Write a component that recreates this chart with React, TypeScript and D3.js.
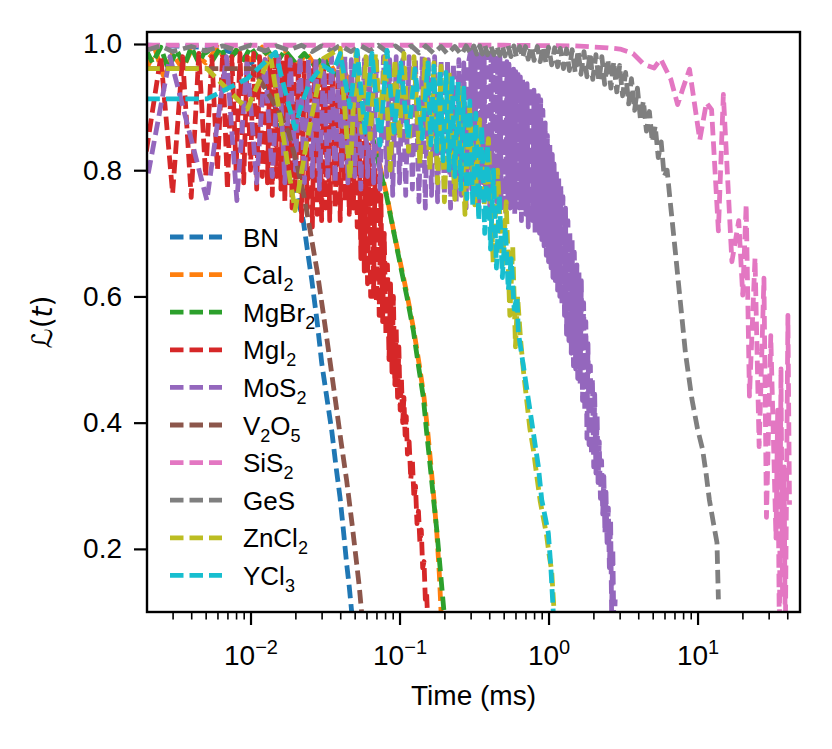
import React, { useRef, useEffect } from 'react';
import * as d3 from 'd3';

type Pt = [number, number];

// series labels, in plotting order (digits are rendered as subscripts)
const labels = ['BN', 'CaI2', 'MgBr2', 'MgI2', 'MoS2', 'V2O5', 'SiS2', 'GeS', 'ZnCl2', 'YCl3'];
const lineColors = ['#1f77b4', '#ff7f0e', '#2ca02c', '#d62728', '#9467bd', '#8c564b', '#e377c2', '#7f7f7f', '#bcbd22', '#17becf'];

// [time (ms), L(t)]
const bn: Pt[] = [
    [0.002, 0.998], [0.004, 0.996], [0.006, 0.993], [0.008, 0.985], [0.01, 0.972], [0.012, 0.95],
    [0.014, 0.915], [0.0155, 0.88], [0.0168, 0.85], [0.0184, 0.8], [0.0205, 0.76], [0.0226, 0.72],
    [0.0242, 0.67], [0.0258, 0.625], [0.028, 0.56], [0.0301, 0.493], [0.0325, 0.44], [0.0351, 0.387],
    [0.0375, 0.33], [0.0399, 0.281], [0.042, 0.23], [0.0442, 0.176], [0.046, 0.14], [0.0478, 0.099], [0.05, 0.06],
];

const cai2: Pt[] = [
    [0.002, 0.96], [0.0023, 0.99], [0.0026, 0.95], [0.003, 0.985], [0.0035, 0.96], [0.004, 0.99],
    [0.005, 0.97], [0.006, 0.995], [0.007, 0.97], [0.008, 0.99], [0.01, 0.975], [0.012, 0.995],
    [0.014, 0.97], [0.017, 0.99], [0.02, 0.965], [0.024, 0.985], [0.028, 0.96], [0.033, 0.975],
    [0.038, 0.95], [0.043, 0.955], [0.048, 0.93], [0.053, 0.91], [0.058, 0.89], [0.063, 0.87],
    [0.068, 0.848], [0.075, 0.8], [0.083, 0.755], [0.092, 0.7], [0.102, 0.65], [0.113, 0.6],
    [0.125, 0.545], [0.136, 0.49], [0.146, 0.44], [0.154, 0.39], [0.162, 0.335], [0.17, 0.28],
    [0.178, 0.225], [0.185, 0.16], [0.19, 0.1], [0.195, 0.05],
];

const mgbr2: Pt[] = [
    [0.002, 0.99], [0.0022, 0.97], [0.0025, 0.995], [0.0028, 0.96], [0.0032, 0.99], [0.0036, 0.965],
    [0.004, 0.995], [0.0045, 0.97], [0.005, 0.99], [0.0056, 0.975], [0.0063, 0.995], [0.007, 0.97],
    [0.008, 0.99], [0.009, 0.975], [0.01, 0.995], [0.0115, 0.975], [0.013, 0.99], [0.015, 0.97],
    [0.017, 0.99], [0.02, 0.97], [0.023, 0.985], [0.027, 0.965], [0.031, 0.98], [0.035, 0.95],
    [0.04, 0.955], [0.045, 0.93], [0.05, 0.915], [0.055, 0.9], [0.06, 0.88], [0.0667, 0.848],
    [0.074, 0.8], [0.082, 0.758], [0.091, 0.705], [0.1008, 0.652], [0.112, 0.6], [0.1238, 0.546],
    [0.134, 0.49], [0.1445, 0.44], [0.152, 0.385], [0.16, 0.335], [0.169, 0.28], [0.178, 0.229],
    [0.188, 0.165], [0.199, 0.099], [0.205, 0.06],
];

const mgi2: Pt[] = [
    [0.002, 0.83], [0.0025, 0.98], [0.003, 0.763], [0.0035, 0.98], [0.004, 0.757], [0.0045, 0.985],
    [0.005, 0.79], [0.0055, 0.98], [0.006, 0.8], [0.0065, 0.985], [0.007, 0.77], [0.0075, 0.98],
    [0.008, 0.8], [0.0085, 0.985], [0.009, 0.78], [0.0095, 0.98], [0.01, 0.8], [0.0105, 0.985],
    [0.011, 0.77], [0.0115, 0.98], [0.012, 0.79], [0.0125, 0.975], [0.013, 0.78], [0.0135, 0.98],
    [0.014, 0.76], [0.0145, 0.975], [0.015, 0.79], [0.0155, 0.98], [0.016, 0.77], [0.0165, 0.97],
    [0.017, 0.75], [0.0175, 0.98], [0.018, 0.78], [0.0185, 0.97], [0.019, 0.74], [0.0195, 0.975],
    [0.02, 0.77], [0.021, 0.97], [0.022, 0.72], [0.023, 0.97], [0.024, 0.74], [0.025, 0.965],
    [0.026, 0.71], [0.027, 0.97], [0.028, 0.73], [0.029, 0.96], [0.03, 0.72], [0.031, 0.96],
    [0.032, 0.74], [0.033, 0.95], [0.034, 0.72], [0.0355, 0.95], [0.037, 0.74], [0.0385, 0.94],
    [0.04, 0.72], [0.0415, 0.94], [0.043, 0.75], [0.0445, 0.93], [0.046, 0.73], [0.0475, 0.92],
    [0.049, 0.74], [0.0505, 0.9], [0.052, 0.71], [0.0535, 0.89], [0.055, 0.66], [0.0565, 0.88],
    [0.058, 0.64], [0.0595, 0.86], [0.061, 0.62], [0.0625, 0.84], [0.064, 0.6], [0.0655, 0.82],
    [0.067, 0.6], [0.0685, 0.8], [0.07, 0.59], [0.0715, 0.79], [0.073, 0.57], [0.075, 0.76],
    [0.077, 0.56], [0.079, 0.7], [0.081, 0.54], [0.083, 0.65], [0.085, 0.5], [0.087, 0.62],
    [0.089, 0.48], [0.091, 0.6], [0.093, 0.46], [0.095, 0.55], [0.097, 0.44], [0.099, 0.52],
    [0.101, 0.42], [0.103, 0.47], [0.105, 0.4], [0.107, 0.44], [0.109, 0.38], [0.111, 0.41],
    [0.113, 0.35], [0.116, 0.37], [0.119, 0.31], [0.122, 0.34], [0.125, 0.28], [0.128, 0.3],
    [0.131, 0.24], [0.134, 0.26], [0.137, 0.21], [0.14, 0.23], [0.143, 0.17], [0.146, 0.18],
    [0.149, 0.12], [0.152, 0.13], [0.155, 0.08], [0.158, 0.09], [0.16, 0.05],
];

const mos2: Pt[] = [
    [0.00206, 0.795], [0.00288, 0.98], [0.0051, 0.752], [0.0069, 0.98], [0.0081, 0.752], [0.0095, 0.975],
    [0.011, 0.78], [0.0125, 0.975], [0.014, 0.79], [0.0155, 0.98], [0.017, 0.78], [0.0185, 0.975],
    [0.02, 0.8], [0.0215, 0.98], [0.023, 0.78], [0.0245, 0.975], [0.026, 0.79], [0.0275, 0.98],
    [0.029, 0.77], [0.031, 0.975], [0.033, 0.79], [0.035, 0.98], [0.037, 0.78], [0.039, 0.975],
    [0.041, 0.8], [0.043, 0.98], [0.045, 0.78], [0.0475, 0.975], [0.05, 0.79], [0.0525, 0.98],
    [0.055, 0.77], [0.058, 0.975], [0.061, 0.79], [0.064, 0.98], [0.067, 0.78], [0.07, 0.975],
    [0.074, 0.77], [0.078, 0.98], [0.082, 0.79], [0.086, 0.975], [0.09, 0.76], [0.095, 0.98],
    [0.1, 0.78], [0.105, 0.975], [0.11, 0.76], [0.116, 0.98], [0.122, 0.77], [0.128, 0.975],
    [0.135, 0.75], [0.142, 0.98], [0.149, 0.74], [0.156, 0.975], [0.164, 0.76], [0.172, 0.98],
    [0.18, 0.75], [0.19, 0.975], [0.2, 0.76], [0.21, 0.975], [0.22, 0.74], [0.23, 0.97],
    [0.24, 0.75], [0.25, 0.975], [0.26, 0.76], [0.27, 0.97], [0.28, 0.74], [0.29, 0.97],
    // dense band from 0.3 ms on
    [0.3, 0.99], [0.305, 0.77], [0.31, 0.99], [0.316, 0.75], [0.321, 0.988], [0.327, 0.78],
    [0.333, 0.99], [0.339, 0.74], [0.345, 0.988], [0.351, 0.76], [0.357, 0.987], [0.363, 0.78],
    [0.37, 0.987], [0.376, 0.75], [0.383, 0.986], [0.39, 0.77], [0.396, 0.986], [0.403, 0.74],
    [0.411, 0.985], [0.418, 0.76], [0.425, 0.984], [0.433, 0.78], [0.44, 0.983], [0.448, 0.75],
    [0.456, 0.98], [0.464, 0.77], [0.472, 0.978], [0.481, 0.74], [0.489, 0.977], [0.498, 0.76],
    [0.507, 0.975], [0.516, 0.73], [0.525, 0.972], [0.534, 0.76], [0.543, 0.968], [0.553, 0.74],
    [0.563, 0.964], [0.573, 0.75], [0.583, 0.96], [0.593, 0.73], [0.603, 0.956], [0.614, 0.75],
    [0.625, 0.952], [0.636, 0.74], [0.647, 0.948], [0.658, 0.72], [0.67, 0.944], [0.682, 0.74],
    [0.694, 0.94], [0.706, 0.73], [0.718, 0.937], [0.731, 0.71], [0.744, 0.933], [0.757, 0.73],
    [0.77, 0.93], [0.784, 0.72], [0.798, 0.927], [0.812, 0.7], [0.826, 0.923], [0.841, 0.71],
    [0.855, 0.918], [0.87, 0.7], [0.886, 0.912], [0.901, 0.69], [0.917, 0.895], [0.933, 0.68],
    [0.95, 0.875], [0.966, 0.665], [0.983, 0.855], [1.0, 0.655], [1.02, 0.84], [1.04, 0.645],
    [1.06, 0.825], [1.07, 0.63], [1.09, 0.81], [1.11, 0.625], [1.13, 0.8], [1.15, 0.61],
    [1.17, 0.79], [1.19, 0.6], [1.21, 0.775], [1.23, 0.585], [1.25, 0.758], [1.28, 0.57],
    [1.3, 0.74], [1.32, 0.54], [1.35, 0.72], [1.37, 0.53], [1.39, 0.7], [1.42, 0.51],
    [1.44, 0.69], [1.47, 0.49], [1.49, 0.67], [1.52, 0.485], [1.55, 0.65], [1.57, 0.47],
    [1.6, 0.64], [1.63, 0.46], [1.66, 0.625], [1.69, 0.435], [1.72, 0.59], [1.75, 0.42],
    [1.78, 0.56], [1.81, 0.375], [1.84, 0.525], [1.87, 0.365], [1.91, 0.49], [1.94, 0.35],
    [1.97, 0.47], [2.01, 0.33], [2.04, 0.445], [2.08, 0.32], [2.12, 0.41], [2.15, 0.305],
    [2.19, 0.37], [2.23, 0.28], [2.27, 0.34], [2.31, 0.255], [2.35, 0.315], [2.39, 0.225],
    [2.43, 0.29], [2.47, 0.21], [2.52, 0.265], [2.56, 0.17], [2.61, 0.245], [2.65, 0.1],
    [2.7, 0.2], [2.75, 0.06], [2.8, 0.12],
];

const v2o5: Pt[] = [
    [0.002, 0.961], [0.0105, 0.961], [0.0122, 0.934], [0.0141, 0.91], [0.0159, 0.887], [0.018, 0.86],
    [0.0204, 0.811], [0.0228, 0.76], [0.0251, 0.705], [0.028, 0.64], [0.0308, 0.573], [0.0338, 0.505],
    [0.0369, 0.44], [0.0405, 0.37], [0.0442, 0.308], [0.048, 0.24], [0.0516, 0.176], [0.0537, 0.14],
    [0.0557, 0.099], [0.058, 0.06],
];

const sis2: Pt[] = [
    [0.002, 0.998], [0.5, 0.998], [1.5, 0.997], [2.5, 0.994], [3.02, 0.992], [3.69, 0.985],
    [4.35, 0.968], [5.11, 0.962], [5.66, 0.976], [6.62, 0.944], [7.35, 0.904], [7.96, 0.929],
    [8.83, 0.96], [10.35, 0.848], [11.47, 0.907], [12.42, 0.896], [13.8, 0.704], [14.9, 0.92],
    [17.0, 0.655], [18.9, 0.72], [20.1, 0.602], [21.2, 0.746], [22.3, 0.442], [24.3, 0.661],
    [25.9, 0.362], [27.9, 0.629], [29.0, 0.25], [31.0, 0.538], [33.6, 0.217], [34.5, 0.42],
    [35.4, 0.06], [36.3, 0.485], [37.2, 0.12], [38.1, 0.33], [38.8, 0.05], [40.4, 0.57], [41.4, 0.27],
];

const ges: Pt[] = [
    [0.002, 0.99], [0.0025, 0.997], [0.003, 0.988], [0.004, 0.996], [0.005, 0.989], [0.0065, 0.997],
    [0.008, 0.99], [0.01, 0.998], [0.0125, 0.989], [0.015, 0.997], [0.018, 0.99], [0.022, 0.998],
    [0.026, 0.988], [0.03, 0.997], [0.035, 0.989], [0.04, 0.998], [0.047, 0.988], [0.055, 0.997],
    [0.063, 0.989], [0.072, 0.998], [0.082, 0.988], [0.094, 0.997], [0.107, 0.987], [0.12, 0.997],
    [0.135, 0.986], [0.15, 0.997], [0.17, 0.985], [0.19, 0.996], [0.21, 0.984], [0.235, 0.996],
    [0.26, 0.983], [0.28, 0.997],
    [0.3, 0.985], [0.315, 0.997], [0.33, 0.984], [0.345, 0.997], [0.36, 0.984], [0.375, 0.997],
    [0.39, 0.983], [0.41, 0.997], [0.43, 0.983], [0.45, 0.997], [0.47, 0.982], [0.49, 0.997],
    [0.51, 0.981], [0.535, 0.997], [0.56, 0.98], [0.585, 0.997], [0.61, 0.979], [0.64, 0.996],
    [0.67, 0.978], [0.7, 0.996], [0.73, 0.976], [0.765, 0.996], [0.8, 0.974], [0.84, 0.996],
    [0.88, 0.972], [0.92, 0.996], [0.96, 0.97], [1.0, 0.995], [1.05, 0.967], [1.1, 0.994],
    [1.15, 0.964], [1.2, 0.993], [1.26, 0.961], [1.32, 0.992], [1.38, 0.958], [1.44, 0.991],
    [1.51, 0.955], [1.58, 0.99], [1.65, 0.952], [1.73, 0.988], [1.81, 0.948], [1.9, 0.986],
    [1.98, 0.944], [2.08, 0.983], [2.18, 0.94], [2.28, 0.98], [2.38, 0.936], [2.5, 0.976],
    [2.62, 0.93], [2.74, 0.972], [2.87, 0.924], [3.0, 0.966], [3.14, 0.918], [3.29, 0.955],
    [3.45, 0.905], [3.6, 0.945], [3.78, 0.895], [3.95, 0.93], [4.14, 0.88], [4.33, 0.91],
    [4.54, 0.862], [4.75, 0.893], [4.97, 0.845], [5.2, 0.87], [5.45, 0.82], [5.7, 0.845],
    [5.97, 0.79], [6.25, 0.8], [6.53, 0.754], [7.1, 0.67], [7.63, 0.596], [8.3, 0.51],
    [9.17, 0.437], [10.0, 0.39], [10.8, 0.358], [11.4, 0.32], [12.0, 0.278], [12.8, 0.24],
    [13.5, 0.21], [13.8, 0.12],
];

const zncl2: Pt[] = [
    [0.002, 0.961], [0.0051, 0.961], [0.0095, 0.897], [0.0136, 0.982], [0.0199, 0.736], [0.0238, 0.844],
    [0.0308, 0.977], [0.04, 0.993], [0.0465, 0.786], [0.051, 0.985], [0.0557, 0.86], [0.0595, 0.98],
    [0.0635, 0.85], [0.069, 0.985], [0.074, 0.88], [0.08, 0.98], [0.0865, 0.8], [0.093, 0.975],
    [0.1, 0.85], [0.107, 0.985], [0.115, 0.83], [0.125, 0.98], [0.137, 0.81], [0.148, 0.975],
    [0.16, 0.8], [0.17, 0.97], [0.18, 0.78], [0.19, 0.965], [0.2, 0.75], [0.215, 0.955],
    [0.235, 0.754], [0.255, 0.93], [0.275, 0.73], [0.295, 0.9], [0.32, 0.745], [0.345, 0.88],
    [0.37, 0.745], [0.395, 0.85], [0.425, 0.654], [0.455, 0.8], [0.49, 0.65], [0.52, 0.75],
    [0.55, 0.57], [0.575, 0.68], [0.6, 0.52], [0.62, 0.6], [0.65, 0.53], [0.68, 0.48],
    [0.71, 0.44], [0.75, 0.39], [0.79, 0.358], [0.84, 0.31], [0.88, 0.275], [0.93, 0.245],
    [0.97, 0.222], [1.01, 0.19], [1.05, 0.165], [1.09, 0.1], [1.12, 0.05],
];

const ycl3: Pt[] = [
    [0.002, 0.913], [0.0051, 0.913], [0.0095, 0.945], [0.0147, 0.987], [0.0176, 0.913], [0.0199, 0.866],
    [0.0215, 0.897], [0.025, 0.94], [0.0306, 0.966], [0.0358, 0.956], [0.04, 0.985], [0.0465, 0.9],
    [0.052, 0.99], [0.0587, 0.86], [0.0654, 0.985], [0.074, 0.84], [0.0824, 0.99], [0.092, 0.86],
    [0.102, 0.97], [0.114, 0.85], [0.127, 0.96], [0.142, 0.85],
    [0.155, 0.97], [0.162, 0.84], [0.17, 0.965], [0.178, 0.83], [0.187, 0.96], [0.196, 0.815],
    [0.205, 0.955], [0.215, 0.8], [0.225, 0.95], [0.235, 0.79], [0.247, 0.94], [0.258, 0.77],
    [0.27, 0.93], [0.283, 0.755], [0.296, 0.91], [0.31, 0.745], [0.325, 0.89], [0.34, 0.72],
    [0.356, 0.87], [0.373, 0.7], [0.39, 0.84], [0.408, 0.675], [0.427, 0.8], [0.447, 0.645],
    [0.468, 0.76], [0.49, 0.63], [0.513, 0.71], [0.537, 0.61], [0.562, 0.66], [0.588, 0.58],
    [0.615, 0.6], [0.627, 0.543], [0.678, 0.49], [0.732, 0.437], [0.791, 0.384], [0.854, 0.331],
    [0.9, 0.278], [0.95, 0.25], [0.997, 0.225], [1.035, 0.173], [1.077, 0.098], [1.105, 0.05],
];

const xMajorTicks = [0.01, 0.1, 1, 10];
const xTickExponents = ['\u22122', '\u22121', '0', '1'];
const yTicks = [0.2, 0.4, 0.6, 0.8, 1.0];

const FONT = '"Liberation Sans", Arial, Helvetica, sans-serif';
const LINE_WIDTH = 4.8;
const DASH = '13.5 6';

const App: React.FC = () => {
    const svgRef = useRef<SVGSVGElement | null>(null);

    useEffect(() => {
        if (!svgRef.current) return;
        const svg = d3.select(svgRef.current);
        svg.selectAll('*').remove();

        const width = 832;
        const height = 749;
        const margin = { top: 32, right: 32, bottom: 137, left: 147 };
        const innerWidth = width - margin.left - margin.right;
        const innerHeight = height - margin.top - margin.bottom;

        const x = d3.scaleLog().domain([0.00202, 48.7]).range([0, innerWidth]);
        const y = d3.scaleLinear().domain([0.1, 1.019]).range([innerHeight, 0]);

        const line = d3
            .line<Pt>()
            .x((d) => x(d[0]))
            .y((d) => y(d[1]));

        const g = svg
            .append('g')
            .attr('transform', `translate(${margin.left},${margin.top})`);

        g.append('defs')
            .append('clipPath')
            .attr('id', 'plot-clip')
            .append('rect')
            .attr('width', innerWidth)
            .attr('height', innerHeight);

        const series = [bn, cai2, mgbr2, mgi2, mos2, v2o5, sis2, ges, zncl2, ycl3];
        const plot = g.append('g').attr('clip-path', 'url(#plot-clip)');

        series.forEach((data, i) => {
            plot.append('path')
                .datum(data)
                .attr('fill', 'none')
                .attr('stroke', lineColors[i])
                .attr('stroke-width', LINE_WIDTH)
                .attr('stroke-dasharray', DASH)
                .attr('stroke-linejoin', 'round')
                .attr('d', line);
        });

        // y axis
        const yAxis = g
            .append('g')
            .call(
                d3
                    .axisLeft(y)
                    .tickValues(yTicks)
                    .tickSize(13)
                    .tickPadding(12)
                    .tickFormat(d3.format('.1f')),
            )
            .attr('font-family', FONT)
            .attr('font-size', 28);
        yAxis.select('.domain').remove();
        yAxis.selectAll('line').attr('stroke', '#000').attr('stroke-width', 2.2);
        yAxis.selectAll('text').attr('fill', '#000');

        // x axis: minor ticks
        const isMajor = (t: number) =>
            Math.abs(Math.log10(t) - Math.round(Math.log10(t))) < 1e-6;
        const minorTicks = x.ticks().filter((t) => !isMajor(t));
        const xMinor = g
            .append('g')
            .attr('transform', `translate(0,${innerHeight})`)
            .call(d3.axisBottom(x).tickValues(minorTicks).tickSize(7.5).tickFormat(() => ''));
        xMinor.select('.domain').remove();
        xMinor.selectAll('line').attr('stroke', '#000').attr('stroke-width', 1.6);

        // x axis: major ticks with 10^n labels
        const xAxis = g
            .append('g')
            .attr('transform', `translate(0,${innerHeight})`)
            .call(d3.axisBottom(x).tickValues(xMajorTicks).tickSize(13).tickFormat(() => ''))
            .attr('font-family', FONT)
            .attr('font-size', 28);
        xAxis.select('.domain').remove();
        xAxis.selectAll('line').attr('stroke', '#000').attr('stroke-width', 2.2);
        xAxis.selectAll<SVGTextElement, number>('.tick text').each(function (_d, i) {
            const t = d3.select(this);
            t.attr('y', 53).attr('dy', null).attr('fill', '#000');
            t.append('tspan').text('10');
            t.append('tspan')
                .attr('font-size', 20)
                .attr('dy', -11)
                .text(xTickExponents[i]);
        });

        // frame
        g.append('rect')
            .attr('width', innerWidth)
            .attr('height', innerHeight)
            .attr('fill', 'none')
            .attr('stroke', '#000')
            .attr('stroke-width', 2.4);

        // axis titles
        svg.append('text')
            .attr('x', margin.left + innerWidth / 2)
            .attr('y', 705)
            .attr('text-anchor', 'middle')
            .attr('font-family', FONT)
            .attr('font-size', 28)
            .attr('fill', '#000')
            .text('Time (ms)');

        const yTitle = svg
            .append('text')
            .attr('transform', `translate(52,${margin.top + innerHeight / 2}) rotate(-90)`)
            .attr('text-anchor', 'middle')
            .attr('font-family', '"DejaVu Sans", sans-serif')
            .attr('font-size', 28)
            .attr('fill', '#000');
        yTitle.append('tspan').text('\u2112(');
        yTitle.append('tspan').attr('font-style', 'italic').text('t');
        yTitle.append('tspan').text(')');

        // legend (no frame)
        const legend = svg.append('g');
        labels.forEach((label, i) => {
            const rowY = 237 + i * 37.6;
            legend
                .append('line')
                .attr('x1', 170)
                .attr('x2', 222)
                .attr('y1', rowY)
                .attr('y2', rowY)
                .attr('stroke', lineColors[i])
                .attr('stroke-width', LINE_WIDTH)
                .attr('stroke-dasharray', DASH);
            const text = legend
                .append('text')
                .attr('x', 243)
                .attr('y', rowY + 9.5)
                .attr('font-family', FONT)
                .attr('font-size', 26)
                .attr('fill', '#000');
            let lowered = false;
            label
                .split(/(\d)/)
                .filter(Boolean)
                .forEach((part) => {
                    const isSub = /\d/.test(part);
                    const span = text.append('tspan').text(part);
                    if (isSub && !lowered) {
                        span.attr('font-size', 18).attr('dy', 7);
                        lowered = true;
                    } else if (isSub) {
                        span.attr('font-size', 18);
                    } else if (lowered) {
                        span.attr('dy', -7);
                        lowered = false;
                    }
                });
        });
    }, []);

    return (
        <svg
            ref={svgRef}
            width={832}
            height={749}
            style={{ position: 'absolute', left: 0, top: 0, background: '#fff' }}
        ></svg>
    );
};

export default App;
